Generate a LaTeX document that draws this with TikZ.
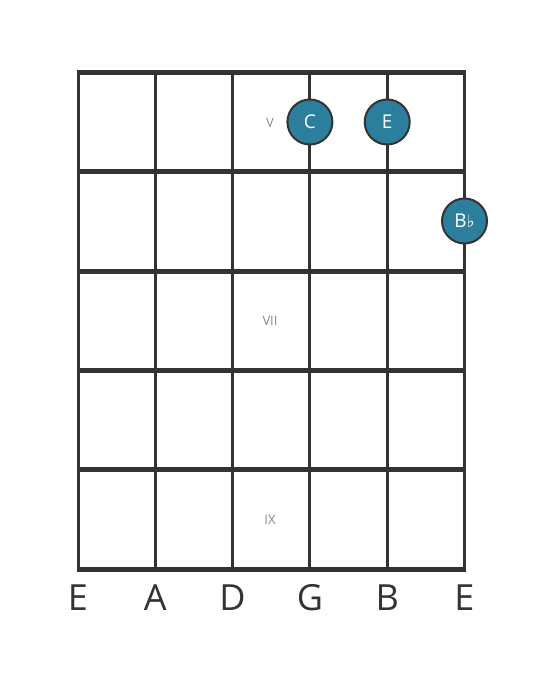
\documentclass[tikz,border=0pt]{standalone}
\usepackage{fontspec}
\setmainfont{Open Sans}
\newfontfamily\symfont{DejaVu Sans}
\definecolor{gridc}{HTML}{333333}
\definecolor{notec}{HTML}{2B7F9D}
\definecolor{labc}{HTML}{8A8A8A}
\begin{document}
\begin{tikzpicture}[x=1pt,y=-1pt,
  stringline/.style={draw=gridc,line width=3pt},
  fretline/.style={draw=gridc,line width=5pt},
  note/.style={circle,fill=notec,draw=gridc,line width=2pt,minimum size=45pt,inner sep=0pt,text=white,font=\fontsize{19}{19}\selectfont},
  fretlab/.style={text=labc,font=\fontsize{13}{13}\selectfont},
  strlab/.style={text=gridc,font=\fontsize{36}{36}\selectfont}]
\useasboundingbox (0,0) rectangle (559,682);
\def\xs{{78,155.3,232.6,309.9,387.2,464.5}}
\foreach \i in {0,...,5}{
  \pgfmathsetmacro\xx{\xs[\i]}
  \draw[stringline] (\xx,72.5) -- (\xx,569);
}
\foreach \j in {0,...,5}{
  \pgfmathsetmacro\yy{72.5+99.3*\j}
  \draw[fretline] (76.5,\yy) -- (466,\yy);
}
\node[fretlab] (l5) at (270,123) {V};
\node[fretlab] (l7) at (270,321) {VII};
\node[fretlab] (l9) at (270,520) {IX};
\node[note] (nC) at (309.9,122) {C};
\node[note] (nE) at (387.2,122) {E};
\node[note] (nBb) at (464.5,221) {B{\symfont\fontsize{17}{17}\selectfont ♭}};
\node[strlab] (s1) at (78,598) {E};
\node[strlab] (s2) at (155.3,598) {A};
\node[strlab] (s3) at (232.6,598) {D};
\node[strlab] (s4) at (309.9,598) {G};
\node[strlab] (s5) at (387.2,598) {B};
\node[strlab] (s6) at (464.5,598) {E};
\end{tikzpicture}
\end{document}
